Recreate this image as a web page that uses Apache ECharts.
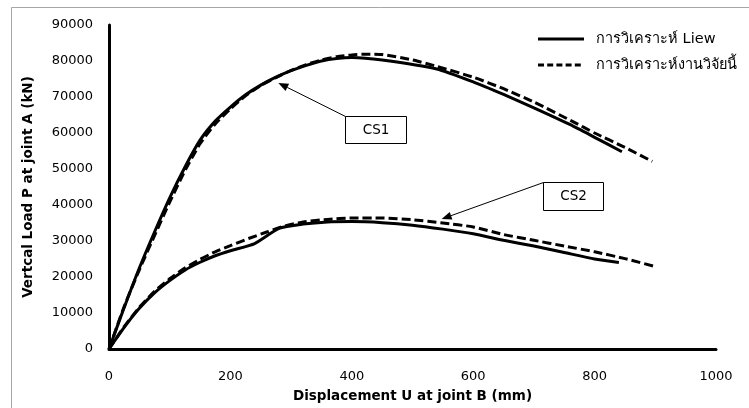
<!DOCTYPE html>
<html>
<head>
<meta charset="utf-8">
<script src="https://cdn.jsdelivr.net/npm/echarts@6/dist/echarts.min.js"></script>
<style>
  html, body { margin: 0; padding: 0; background: #ffffff; }
  #chart { width: 749px; height: 408px; }
</style>
</head>
<body>
<div id="chart"></div>
<script>
// Load–displacement curves for two cross sections (CS1, CS2)
const nameLiew = 'การวิเคราะห์ Liew';
const nameThis = 'การวิเคราะห์งานวิจัยนี้';

// CS1 — Liew analysis
const cs1LiewU = [0, 25, 50, 75, 100, 125, 150, 175, 200, 225, 250, 275, 300, 325, 350, 375, 400, 450, 540, 600, 650, 700, 760, 800, 845];
const cs1LiewP = [0, 11500, 22500, 32500, 42000, 50500, 58000, 63300, 67200, 70600, 73300, 75500, 77300, 78800, 80000, 80700, 81000, 80300, 77800, 74200, 70700, 67000, 62300, 58800, 54800];

// CS1 — this study
const cs1ThisU = [0, 25, 50, 75, 100, 125, 150, 175, 200, 225, 250, 275, 300, 325, 350, 375, 400, 425, 450, 500, 540, 600, 650, 700, 765, 800, 850, 895];
const cs1ThisP = [0, 11800, 22000, 31500, 40800, 49500, 57000, 62500, 66700, 70300, 73200, 75400, 77400, 79000, 80300, 81200, 81700, 81900, 81800, 80300, 78500, 75500, 72300, 68600, 63100, 60000, 56000, 52100];

// CS2 — Liew analysis
const cs2LiewU = [0, 25, 50, 75, 100, 125, 150, 175, 200, 240, 280, 320, 360, 400, 450, 500, 550, 600, 650, 700, 750, 800, 840];
const cs2LiewP = [0, 6000, 11300, 15600, 19000, 21900, 24100, 25900, 27300, 29300, 33500, 34700, 35300, 35400, 35100, 34400, 33300, 32000, 30200, 28600, 26800, 25000, 24000];

// CS2 — this study
const cs2ThisU = [0, 25, 50, 75, 100, 125, 150, 175, 200, 230, 260, 290, 320, 360, 400, 450, 500, 550, 600, 650, 700, 750, 800, 850, 900];
const cs2ThisP = [0, 6200, 11600, 16000, 19500, 22500, 24900, 27000, 28700, 30700, 32500, 34200, 35300, 36000, 36400, 36400, 35900, 35000, 33900, 31800, 30200, 28600, 27000, 25100, 22900];

// Callout labels, anchored in data coordinates: box corners and arrow tip
const callouts = [
  { text: 'CS1', u0: 389, u1: 490, p0: 57300, p1: 64800, tipU: 279, tipP: 73900 },
  { text: 'CS2', u0: 715, u1: 814, p0: 38500, p1: 46500, tipU: 548, tipP: 36100 }
];

const pairs = (u, p) => u.map((x, i) => [x, p[i]]);

const FONT = 'DejaVu Sans';
const solidStyle = { color: '#000', width: 3, type: 'solid' };
const dashStyle = { color: '#000', width: 3, type: [9, 4] };

function lineSeries(name, data, style) {
  return {
    type: 'line', name, data,
    showSymbol: false, symbol: 'none',
    smooth: 0.2,
    lineStyle: style,
    itemStyle: { color: '#000' },
    emphasis: { disabled: true }
  };
}

const chart = echarts.init(document.getElementById('chart'), null, { renderer: 'canvas' });

chart.setOption({
  animation: false,
  backgroundColor: '#ffffff',
  grid: { left: 109, right: 33, top: 25, bottom: 58 },
  xAxis: {
    type: 'value', min: 0, max: 1000, interval: 200,
    name: 'Displacement U at joint B (mm)',
    nameLocation: 'middle', nameGap: 40,
    nameTextStyle: { fontFamily: FONT, fontSize: 13.5, fontWeight: 'bold', color: '#000' },
    axisLine: { show: true, lineStyle: { color: '#000', width: 3 } },
    axisTick: { show: false },
    splitLine: { show: false },
    axisLabel: { fontFamily: FONT, fontSize: 13, color: '#000', margin: 21, formatter: v => String(v) }
  },
  yAxis: {
    type: 'value', min: 0, max: 90000, interval: 10000,
    name: 'Vertcal Load P at joint A (kN)',
    nameLocation: 'middle', nameGap: 74,
    nameTextStyle: { fontFamily: FONT, fontSize: 13.5, fontWeight: 'bold', color: '#000' },
    axisLine: { show: true, lineStyle: { color: '#000', width: 3 } },
    axisTick: { show: false },
    splitLine: { show: false },
    axisLabel: { fontFamily: FONT, fontSize: 13, color: '#000', margin: 16, formatter: v => String(v) }
  },
  series: [
    lineSeries(nameLiew, pairs(cs1LiewU, cs1LiewP), solidStyle),
    lineSeries(nameThis, pairs(cs1ThisU, cs1ThisP), dashStyle),
    lineSeries(nameLiew, pairs(cs2LiewU, cs2LiewP), solidStyle),
    lineSeries(nameThis, pairs(cs2ThisU, cs2ThisP), dashStyle)
  ]
});

// Outer frame, key, and callout boxes with arrows
const toPx = (u, p) => chart.convertToPixel({ gridIndex: 0 }, [u, p]);
const graphics = [{
  type: 'rect', silent: true, z: 0,
  shape: { x: 11.5, y: 7.5, width: 800, height: 500 },
  style: { fill: 'none', stroke: '#a6a6a6', lineWidth: 1 }
}];

// key entries: sample line + label
const keyItems = [
  { label: nameLiew, dash: null, y: 39 },
  { label: nameThis, dash: [6, 3.2], y: 65 }
];
keyItems.forEach(k => {
  graphics.push({
    type: 'line', silent: true, z: 10,
    shape: { x1: 538, y1: k.y, x2: 584, y2: k.y },
    style: { stroke: '#000', lineWidth: 3, lineDash: k.dash }
  });
  graphics.push({
    type: 'text', silent: true, z: 10,
    style: {
      x: 596, y: k.y, text: k.label, fill: '#000',
      font: '14.5px "' + FONT + '"', align: 'left', verticalAlign: 'middle'
    }
  });
});

callouts.forEach(c => {
  const a = toPx(c.u0, c.p1);
  const b = toPx(c.u1, c.p0);
  const tip = toPx(c.tipU, c.tipP);
  const x0 = Math.round(a[0]) + 0.5, y0 = Math.round(a[1]) + 0.5;
  const x1 = Math.round(b[0]) + 0.5, y1 = Math.round(b[1]) + 0.5;
  graphics.push({
    type: 'rect', silent: true, z: 10,
    shape: { x: x0, y: y0, width: x1 - x0, height: y1 - y0 },
    style: { fill: '#fff', stroke: '#000', lineWidth: 1 }
  });
  graphics.push({
    type: 'text', silent: true, z: 11,
    style: {
      x: (x0 + x1) / 2, y: (y0 + y1) / 2, text: c.text,
      fill: '#000', font: '13.5px "' + FONT + '"', align: 'center', verticalAlign: 'middle'
    }
  });
  // arrow shaft and head
  const dx = tip[0] - x0, dy = tip[1] - y0;
  const len = Math.hypot(dx, dy);
  const ux = dx / len, uy = dy / len;
  const hl = 10, hw = 4;
  const bx = tip[0] - ux * hl, by = tip[1] - uy * hl;
  graphics.push({
    type: 'line', silent: true, z: 10,
    shape: { x1: x0, y1: y0, x2: bx, y2: by },
    style: { stroke: '#000', lineWidth: 1 }
  });
  graphics.push({
    type: 'polygon', silent: true, z: 10,
    shape: { points: [[tip[0], tip[1]], [bx - uy * hw, by + ux * hw], [bx + uy * hw, by - ux * hw]] },
    style: { fill: '#000' }
  });
});
chart.setOption({ graphic: graphics });
</script>
</body>
</html>
